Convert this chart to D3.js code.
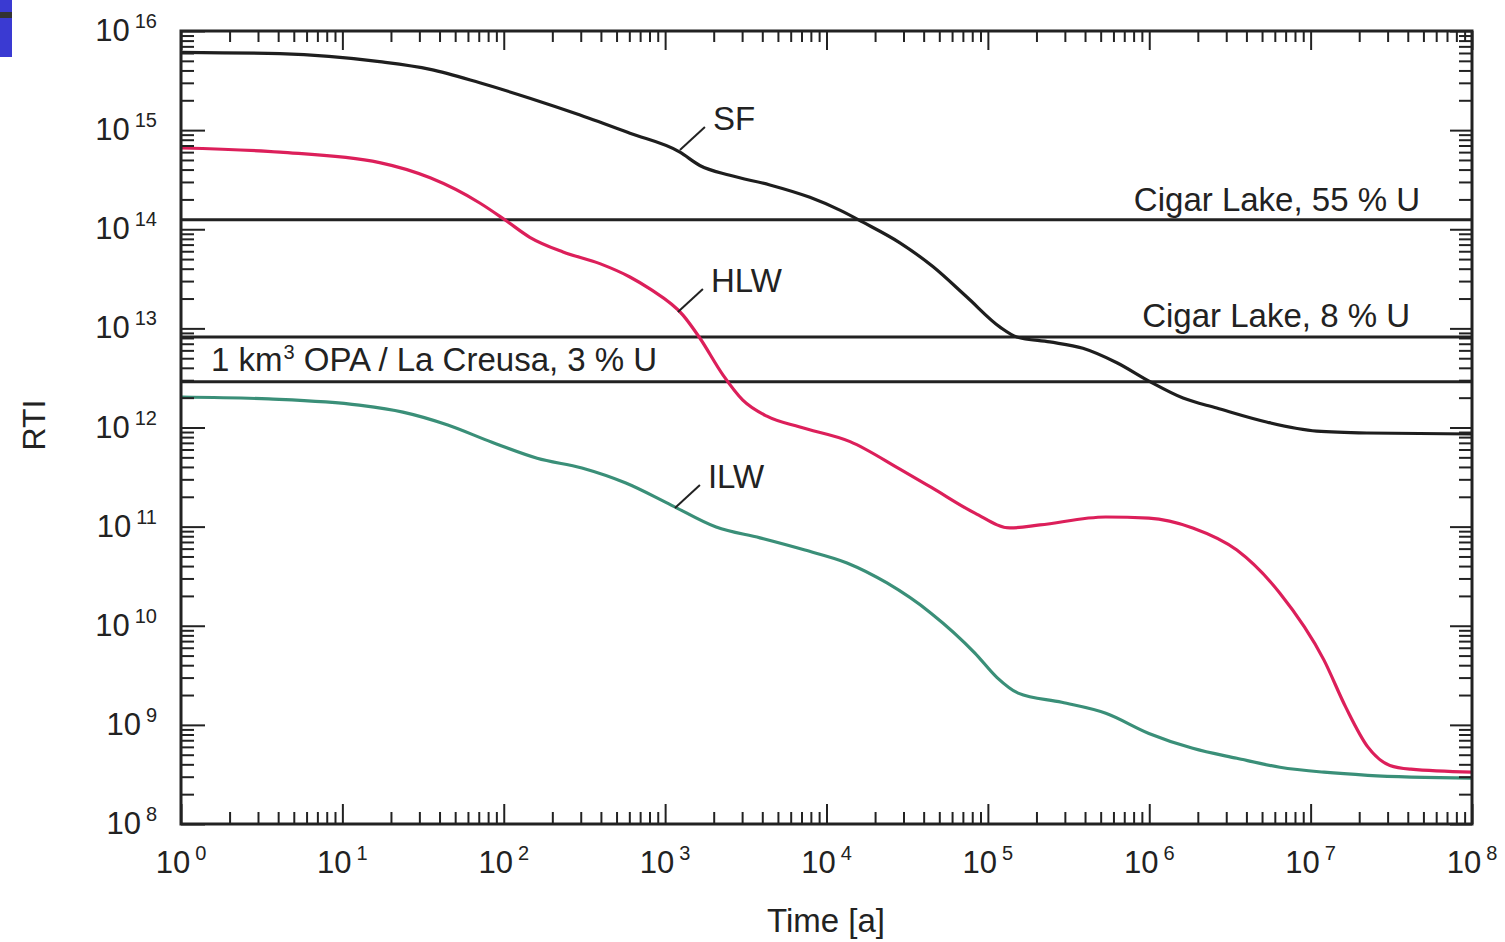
<!DOCTYPE html>
<html>
<head>
<meta charset="utf-8">
<script src="https://cdn.jsdelivr.net/npm/d3@7"></script>
<style>
  body { margin: 0; background: #fff; }
  svg { display: block; font-family: "Liberation Sans", Arial, sans-serif; }
</style>
</head>
<body>
<svg id="chart" width="1505" height="942"></svg>
<script>
// values (years, RTI)
const sfYears = [1, 4.1, 17, 35, 71, 145, 297, 605, 1235, 1640, 2520, 4460, 7890, 12100, 16800, 28500, 45600, 74100, 1.19e5, 1.51e5, 2.42e5, 3.88e5, 6.3e5, 1.01e6, 1.62e6, 2.62e6, 5.4e6, 1.09e7, 2.23e7, 1e8];
const sfRTI = [6.1e15, 5.9e15, 4.9e15, 4.1e15, 3.0e15, 2.1e15, 1.42e15, 9.3e14, 6.0e14, 4.4e14, 3.5e14, 2.8e14, 2.1e14, 1.56e14, 1.18e14, 7.3e13, 4.2e13, 2.07e13, 1.03e13, 8.2e12, 7.3e12, 6.3e12, 4.5e12, 2.9e12, 1.98e12, 1.57e12, 1.13e12, 9.2e11, 8.8e11, 8.6e11];

const hlwYears = [1, 4.1, 17, 35, 71, 102, 145, 233, 394, 605, 805, 1290, 1640, 2280, 3030, 4270, 6840, 14000, 28500, 44400, 83100, 1.37e5, 2.1e5, 5.38e5, 9.95e5, 1.86e6, 3.49e6, 6.45e6, 1.21e7, 1.65e7, 2.26e7, 3.1e7, 4.18e7, 1e8];
const hlwRTI = [6.6e14, 6.0e14, 4.7e14, 3.3e14, 1.84e14, 1.24e14, 8.3e13, 5.9e13, 4.5e13, 3.3e13, 2.5e13, 1.36e13, 8.0e12, 3.4e12, 1.89e12, 1.30e12, 1.01e12, 7.2e11, 3.8e11, 2.5e11, 1.37e11, 9.7e10, 1.04e11, 1.25e11, 1.22e11, 9.7e10, 5.8e10, 2.13e10, 4.5e9, 1.51e9, 6.0e8, 3.9e8, 3.57e8, 3.33e8];

const ilwYears = [1, 3.5, 12.7, 23.7, 45, 84.5, 161, 305, 571, 1090, 2070, 3870, 7350, 13400, 23700, 44400, 83100, 1.14e5, 1.54e5, 2.87e5, 5.38e5, 9.95e5, 1.86e6, 3.49e6, 6.45e6, 1.21e7, 2.26e7, 1e8];
const ilwRTI = [2.03e12, 1.94e12, 1.68e12, 1.43e12, 1.06e12, 7.1e11, 4.9e11, 3.9e11, 2.75e11, 1.65e11, 9.9e10, 7.7e10, 5.8e10, 4.3e10, 2.7e10, 1.34e10, 5.3e9, 3.0e9, 2.09e9, 1.69e9, 1.31e9, 8.2e8, 5.8e8, 4.6e8, 3.74e8, 3.33e8, 3.1e8, 2.9e8];

// horizontal reference levels
const refNames = ["Cigar Lake, 55 % U", "Cigar Lake, 8 % U", "1 km", "3", " OPA / La Creusa, 3 % U"];
const refRTI = [1.25e14, 8.2e12, 2.9e12];

// curve labels and where their leader lines touch the curve
const seriesNames = ["SF", "HLW", "ILW"];
const labelYears = [1235, 1200, 1150];
const labelRTI = [6.3e14, 1.46e13, 1.54e11];

const xTickExp = [0, 1, 2, 3, 4, 5, 6, 7, 8];
const yTickExp = [8, 9, 10, 11, 12, 13, 14, 15, 16];

const plotLeft = 181, plotRight = 1472, plotTop = 31, plotBottom = 824;
const ink = "#222";
const labelSize = 33;

const svg = d3.select("#chart");

// little blue slide corner
svg.append("rect").attr("x", 0).attr("y", 0).attr("width", 12).attr("height", 57).attr("fill", "#3a3ad2");
svg.append("rect").attr("x", 0).attr("y", 12).attr("width", 12).attr("height", 6).attr("fill", "#333");

const x = d3.scaleLog().domain([1, 1e8]).range([plotLeft, plotRight]);
const y = d3.scaleLog().domain([1e8, 1e16]).range([plotBottom, plotTop]);

const line = d3.line()
  .x(d => x(d[0]))
  .y(d => y(d[1]))
  .curve(d3.curveMonotoneX);

// reference lines
refRTI.forEach(v => {
  svg.append("line")
    .attr("x1", plotLeft).attr("x2", plotRight)
    .attr("y1", y(v)).attr("y2", y(v))
    .attr("stroke", ink).attr("stroke-width", 3);
});

svg.append("text").attr("x", plotRight - 52).attr("y", y(refRTI[0]) - 9)
  .attr("text-anchor", "end").attr("font-size", labelSize).attr("fill", ink).text(refNames[0]);
svg.append("text").attr("x", plotRight - 62).attr("y", y(refRTI[1]) - 10)
  .attr("text-anchor", "end").attr("font-size", labelSize).attr("fill", ink).text(refNames[1]);
const opa = svg.append("text").attr("x", plotLeft + 30).attr("y", y(refRTI[2]) - 11)
  .attr("font-size", labelSize).attr("fill", ink);
opa.append("tspan").text(refNames[2]);
opa.append("tspan").attr("dx", 1).attr("dy", -12).attr("font-size", 20).text(refNames[3]);
opa.append("tspan").attr("dy", 12).text(refNames[4]);

// curves
const series = [
  {years: sfYears, rti: sfRTI, color: "#1e1e1e"},
  {years: hlwYears, rti: hlwRTI, color: "#dc1f5a"},
  {years: ilwYears, rti: ilwRTI, color: "#3a8f78"}
];
series.forEach(s => {
  svg.append("path")
    .datum(s.years.map((t, i) => [t, s.rti[i]]))
    .attr("d", line)
    .attr("fill", "none")
    .attr("stroke", s.color)
    .attr("stroke-width", 3.2);
});

// curve labels with leaders
seriesNames.forEach((name, i) => {
  const px = x(labelYears[i]), py = y(labelRTI[i]);
  svg.append("line")
    .attr("x1", px).attr("y1", py)
    .attr("x2", px + 25).attr("y2", py - 23)
    .attr("stroke", ink).attr("stroke-width", 2);
  svg.append("text")
    .attr("x", px + 33).attr("y", py - 20)
    .attr("font-size", labelSize).attr("fill", ink).text(name);
});

// ticks on all four sides, pointing inward
const minor = x.ticks().filter(t => Math.abs(Math.log10(t) % 1) > 1e-6);
const minorY = y.ticks().filter(t => Math.abs(Math.log10(t) % 1) > 1e-6);
const major = xTickExp.map(e => Math.pow(10, e));
const majorY = yTickExp.map(e => Math.pow(10, e));

function tickAxis(axis, transform, values, size) {
  const g = svg.append("g").attr("transform", transform)
    .call(axis.tickValues(values).tickSize(size).tickFormat(""));
  g.select(".domain").remove();
  g.selectAll(".tick line").attr("stroke", ink).attr("stroke-width", 2);
}
tickAxis(d3.axisTop(x), `translate(0,${plotBottom})`, minor, 12);
tickAxis(d3.axisTop(x), `translate(0,${plotBottom})`, major, 20);
tickAxis(d3.axisBottom(x), `translate(0,${plotTop})`, minor, 11);
tickAxis(d3.axisBottom(x), `translate(0,${plotTop})`, major, 19);
tickAxis(d3.axisRight(y), `translate(${plotLeft},0)`, minorY, 13);
tickAxis(d3.axisRight(y), `translate(${plotLeft},0)`, majorY, 24);
tickAxis(d3.axisLeft(y), `translate(${plotRight},0)`, minorY, 13);
tickAxis(d3.axisLeft(y), `translate(${plotRight},0)`, majorY, 22);

// frame
svg.append("rect")
  .attr("x", plotLeft).attr("y", plotTop)
  .attr("width", plotRight - plotLeft).attr("height", plotBottom - plotTop)
  .attr("fill", "none").attr("stroke", ink).attr("stroke-width", 3);

// tick labels: 10 with superscript
function powerLabel(sel, e) {
  sel.append("tspan").text("10");
  sel.append("tspan").attr("dx", 5).attr("dy", -13).attr("font-size", 20).text(e);
}
xTickExp.forEach(e => {
  svg.append("text")
    .attr("x", x(Math.pow(10, e))).attr("y", plotBottom + 49)
    .attr("text-anchor", "middle").attr("font-size", 31).attr("fill", ink)
    .call(powerLabel, e);
});
yTickExp.forEach(e => {
  svg.append("text")
    .attr("x", 157).attr("y", y(Math.pow(10, e)) + 10)
    .attr("text-anchor", "end").attr("font-size", 31).attr("fill", ink)
    .call(powerLabel, e);
});

// axis titles
svg.append("text")
  .attr("transform", "translate(45,425) rotate(-90)")
  .attr("text-anchor", "middle").attr("font-size", 32).attr("fill", ink)
  .text("RTI");
svg.append("text")
  .attr("x", 826).attr("y", 932)
  .attr("text-anchor", "middle").attr("font-size", 33).attr("fill", ink)
  .text("Time [a]");
</script>
</body>
</html>
